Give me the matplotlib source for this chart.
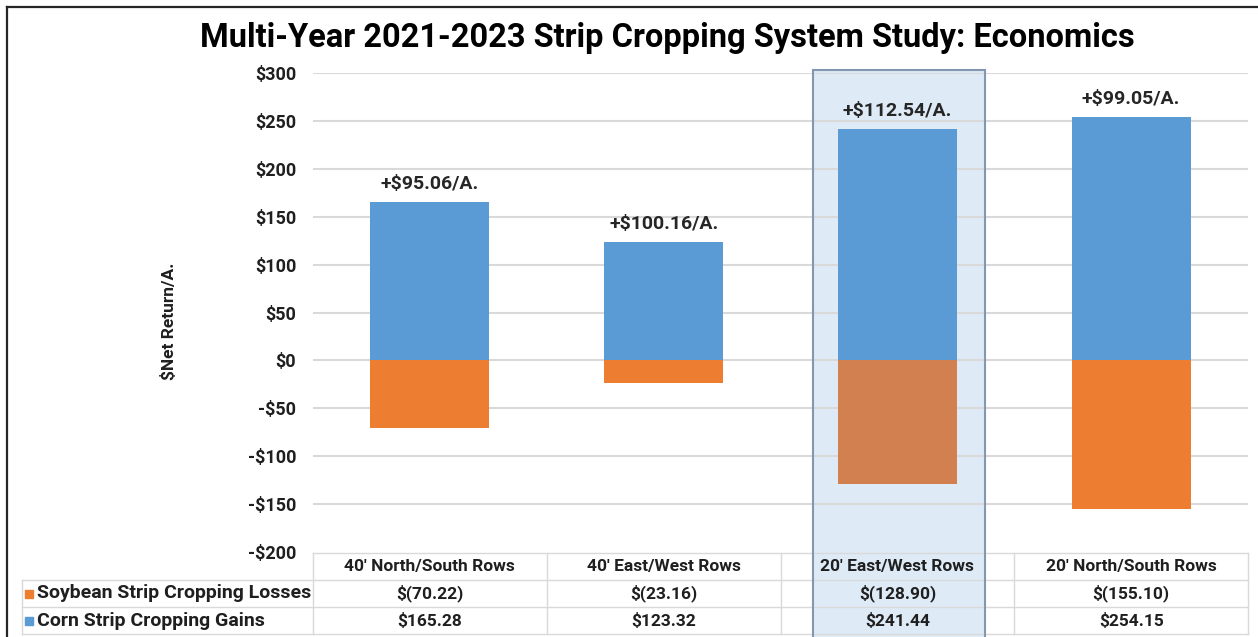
import matplotlib
matplotlib.use('Agg')
import matplotlib.pyplot as plt
from matplotlib.patches import Rectangle
from matplotlib.lines import Line2D

plt.rcParams['font.family'] = ['Roboto', 'DejaVu Sans']
plt.rcParams['font.weight'] = 'bold'

categories = ["40' North/South Rows", "40' East/West Rows", "20' East/West Rows", "20' North/South Rows"]
soy_losses = [-70.22, -23.16, -128.90, -155.10]
corn_gains = [165.28, 123.32, 241.44, 254.15]
series_names = ['Soybean Strip Cropping Losses', 'Corn Strip Cropping Gains']
yticks = [-200, -150, -100, -50, 0, 50, 100, 150, 200, 250, 300]
highlight = 2

orange = '#ED7D31'
orange_hl = '#D2804F'
blue = '#5B9BD5'
grid_c = '#D9D9D9'
text_c = '#1F1F1F'

W, H = 1258, 637
fig = plt.figure(figsize=(W / 100, H / 100), dpi=100)

# main plot area in pixels: x 313..1248, y 73..552
ax = fig.add_axes([313 / W, 1 - 552 / H, 935 / W, 479 / H])
ax.set_xlim(-0.5, 3.5)
ax.set_ylim(-200, 300)
for s in ax.spines.values():
    s.set_visible(False)
ax.set_xticks([])
ax.set_yticks(yticks)
ax.set_yticklabels([f'-${-v}' if v < 0 else f'${v}' for v in yticks],
                   fontsize=13, fontweight='bold', color=text_c)
ax.tick_params(axis='y', length=0, pad=12)
for v in yticks[1:]:
    ax.axhline(v, color=grid_c, lw=1.5, zorder=1)

# highlight box for one column
hl_left, hl_w = highlight - 0.363, 0.735
ax.add_patch(Rectangle((hl_left, -300), hl_w, 603, facecolor='#DEEBF7',
                       edgecolor='none', zorder=0.5, clip_on=False))

x = range(len(categories))
soy_colors = [orange_hl if i == highlight else orange for i in x]
ax.bar(x, soy_losses, width=0.51, color=soy_colors, zorder=2)
ax.bar(x, corn_gains, width=0.51, color=blue, zorder=2)

for i in x:
    net = corn_gains[i] + soy_losses[i]
    ax.annotate(f'+${net:.2f}/A.', (i, corn_gains[i]), xytext=(0, 13),
                textcoords='offset points', ha='center', va='center',
                fontsize=14, fontweight='bold', color='#262626')

ax.set_ylabel('$Net Return/A.', fontsize=12.5, fontweight='bold', color=text_c)
ax.yaxis.set_label_coords(-0.1455, 0.482)

# data table under the plot
tax = fig.add_axes([313 / W, 1 - 634 / H, 935 / W, 81 / H])
tax.set_xlim(-0.5, 3.5)
tax.set_ylim(3, 0)
tax.axis('off')
tax.patch.set_alpha(0)
lab_left = (22 - 313) / 234 - 0.5
tax.plot([-0.5, 3.5], [0, 0], color=grid_c, lw=1, clip_on=False)
for r in (1, 2, 3):
    tax.plot([lab_left, 3.5], [r, r], color=grid_c, lw=1, clip_on=False)
tax.plot([lab_left, lab_left], [1, 3], color=grid_c, lw=1, clip_on=False)
for b in (-0.5, 0.5, 1.5, 2.5, 3.5):
    tax.plot([b, b], [0, 3], color=grid_c, lw=1, clip_on=False)

def acct(v):
    return f'$({-v:.2f})' if v < 0 else f'${v:.2f}'

for i, c in enumerate(categories):
    tax.text(i, 0.5, c, ha='center', va='center', fontsize=12.5, color=text_c)
    tax.text(i, 1.5, acct(soy_losses[i]), ha='center', va='center', fontsize=12.5, color=text_c)
    tax.text(i, 2.5, acct(corn_gains[i]), ha='center', va='center', fontsize=12.5, color=text_c)

sq_x = (29 - 313) / 234 - 0.5
txt_x = (37 - 313) / 234 - 0.5
for r, (name, col) in enumerate(zip(series_names, [orange, blue])):
    tax.plot([sq_x], [r + 1.5], marker='s', ms=6, color=col, clip_on=False)
    tax.text(txt_x, r + 1.5, name, ha='left', va='center', fontsize=14, color=text_c, clip_on=False)

# highlight outline on top
fig.add_artist(Rectangle((813 / W, -0.01), 172 / W, 1 - 70 / H + 0.01,
                         transform=fig.transFigure, facecolor='none',
                         edgecolor='#8497B0', lw=1.5))

fig.text(667 / W, 1 - 38 / H, 'Multi-Year 2021-2023 Strip Cropping System Study: Economics',
         ha='center', va='center', fontsize=23.5, fontweight='bold', color='black')

# screenshot frame (top and left)
fig.add_artist(Line2D([7 / W, 1], [1 - 7 / H, 1 - 7 / H], color='#262626', lw=1.6))
fig.add_artist(Line2D([7 / W, 7 / W], [0, 1 - 7 / H], color='#262626', lw=1.6))

fig.savefig('out.png', dpi=100)
